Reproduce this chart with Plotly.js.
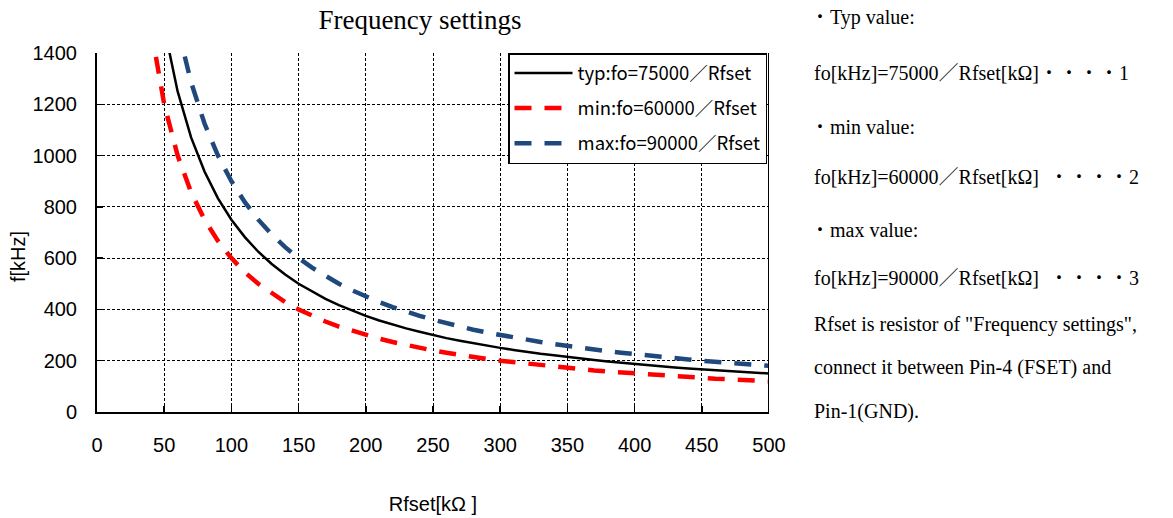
<!DOCTYPE html>
<html>
<head>
<meta charset="utf-8">
<script src="https://cdn.plot.ly/plotly-3.0.1.min.js"></script>
<style>html,body{margin:0;padding:0;background:#fff;}#chart{width:1173px;height:518px;}</style>
</head>
<body>
<div id="chart"></div>
<script>
// Rfset [kΩ]
const rfset = [40,50,60,70,80,90,100,110,120,130,140,150,160,170,180,190,200,210,220,230,240,250,260,270,280,290,300,310,320,330,340,350,360,370,380,390,400,410,420,430,440,450,460,470,480,490,500];
// frequency [kHz] (null = above the plotted range)
const typVals = [null,1500,1250,1071,938,833,750,682,625,577,536,500,469,441,417,395,375,357,341,326,313,300,288,278,268,259,250,242,234,227,221,214,208,203,197,192,188,183,179,174,170,167,163,160,156,153,150];
const minVals = [1500,1200,1000,857,750,667,600,545,500,462,429,400,375,353,333,316,300,286,273,261,250,240,231,222,214,207,200,194,188,182,176,171,167,162,158,154,150,146,143,140,136,133,130,128,125,122,120];
const maxVals = [null,null,1500,1286,1125,1000,900,818,750,692,643,600,563,529,500,474,450,429,409,391,375,360,346,333,321,310,300,290,281,273,265,257,250,243,237,231,225,220,214,209,205,200,196,191,188,184,180];
const seriesNames = ['typ:fo=75000／Rfset','min:fo=60000／Rfset','max:fo=90000／Rfset'];
const xTicks = [0,50,100,150,200,250,300,350,400,450,500];
const yTicks = [0,200,400,600,800,1000,1200,1400];
const noteLines = [
  {text:'・Typ value:', px:808, py:18},
  {text:'fo[kHz]=75000／Rfset[kΩ]・・・・1', px:812, py:73},
  {text:'・min value:', px:808, py:127},
  {text:'fo[kHz]=60000／Rfset[kΩ]  ・・・・2', px:812, py:177},
  {text:'・max value:', px:808, py:230},
  {text:'fo[kHz]=90000／Rfset[kΩ]  ・・・・3', px:812, py:278},
  {text:'Rfset is resistor of "Frequency settings",', px:812, py:324},
  {text:'connect it between Pin-4 (FSET) and', px:812, py:367},
  {text:'Pin-1(GND).', px:812, py:411}
];

const W = 1173, H = 518;
const M = {l:97, r:404, t:53, b:106};
const pw = W - M.l - M.r, ph = H - M.t - M.b;
const px2x = p => (p - M.l) / pw;
const py2y = p => (H - M.b - p) / ph;

const traces = [
  {x: rfset, y: typVals, name: seriesNames[0], legendgroup:'a', mode:'lines',
   line:{color:'#000000', width:2.5}},
  {x: rfset, y: minVals, name: seriesNames[1], legendgroup:'b', mode:'lines',
   line:{color:'#FF0000', width:4.5, dash:'17px,13px'}},
  {x: rfset, y: maxVals, name: seriesNames[2], legendgroup:'c', mode:'lines',
   line:{color:'#1F497D', width:4.5, dash:'17px,13px'}}
];

const serif = 'Liberation Serif, Times New Roman, Noto Serif CJK JP, Noto Sans CJK JP, serif';
const sans = 'Liberation Sans, Arial, sans-serif';

const annotations = noteLines.map(l => ({
  text: l.text, xref:'paper', yref:'paper', x: px2x(l.px), y: py2y(l.py),
  xanchor:'left', yanchor:'middle', showarrow:false,
  font:{family: serif, size:20, color:'#000'}
}));
annotations.push({
  text:'f[kHz]', xref:'paper', yref:'paper', x: px2x(18), y: py2y(257),
  xanchor:'center', yanchor:'middle', textangle:-90, showarrow:false,
  font:{family: sans, size:20, color:'#000'}
});

const layout = {
  width: W, height: H,
  margin: M,
  paper_bgcolor:'#ffffff', plot_bgcolor:'#ffffff',
  showlegend: true,
  title: {text:'Frequency settings', x: px2x(420), xref:'paper', xanchor:'center',
          y: 1 - 20/H, yanchor:'middle', font:{family: serif, size:27, color:'#000'}},
  xaxis: {
    range:[0,500], tickvals: xTicks, ticktext: xTicks.map(String),
    showgrid:true, gridcolor:'#000', gridwidth:1, griddash:'3px,2px',
    zeroline:false, showline:true, linecolor:'#000', linewidth:2,
    ticks:'inside', ticklen:6, tickwidth:1.5, tickcolor:'#000',
    ticklabelstandoff: 14,
    tickfont:{family: sans, size:20, color:'#000'},
    title:{text:'Rfset[kΩ ]', standoff: 42, font:{family: sans, size:20, color:'#000'}},
    fixedrange:true
  },
  yaxis: {
    range:[0,1400], tickvals: yTicks, ticktext: yTicks.map(String),
    showgrid:true, gridcolor:'#000', gridwidth:1, griddash:'3px,2px',
    zeroline:false, showline:true, linecolor:'#000', linewidth:2,
    ticks:'inside', ticklen:6, tickwidth:1.5, tickcolor:'#000',
    ticklabelstandoff: 14,
    tickfont:{family: sans, size:20, color:'#000'},
    fixedrange:true
  },
  legend: {
    x: px2x(508), y: 1, xanchor:'left', yanchor:'top',
    bgcolor:'#ffffff', bordercolor:'#000', borderwidth:1.5,
    traceorder:'grouped', tracegroupgap: 8, itemwidth: 58,
    font:{family:'Noto Sans CJK JP, sans-serif', size:18.5, color:'#000'}
  },
  shapes: [
    {type:'line', xref:'x', yref:'y', x0:500, x1:500, y0:0, y1:1400,
     line:{color:'#000', width:2}, layer:'above'}
  ],
  annotations: annotations
};

Plotly.newPlot('chart', traces, layout, {displayModeBar:false, staticPlot:true});
</script>
</body>
</html>
